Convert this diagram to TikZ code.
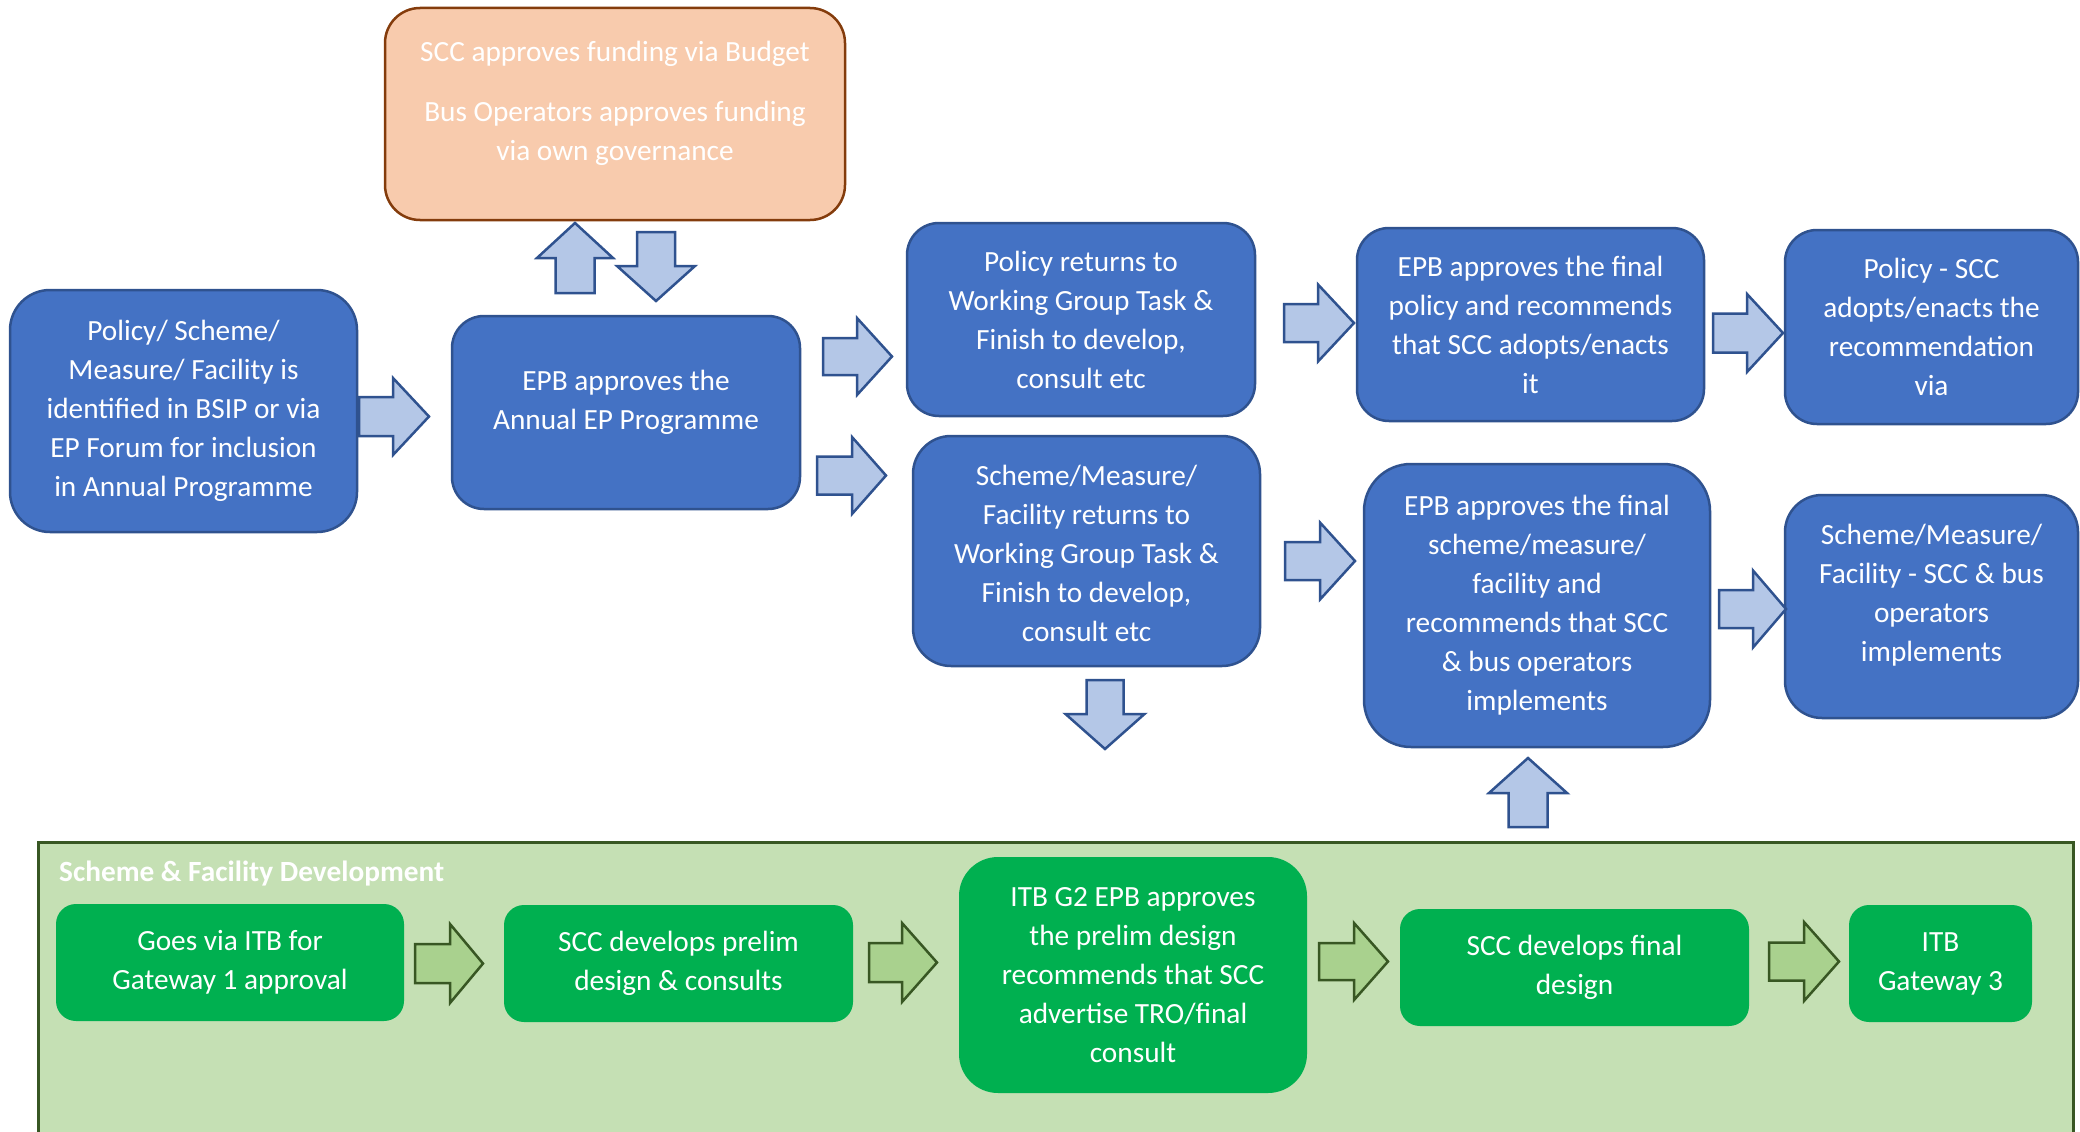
\documentclass[tikz,border=0pt]{standalone}
\usepackage{fontspec}
\setmainfont{Carlito}
\definecolor{bfill}{HTML}{4472C4}
\definecolor{bline}{HTML}{2F528F}
\definecolor{afill}{HTML}{B4C7E7}
\definecolor{ofill}{HTML}{F8CBAD}
\definecolor{oline}{HTML}{843C0C}
\definecolor{pfill}{HTML}{C5E0B4}
\definecolor{pline}{HTML}{385723}
\definecolor{gfill}{HTML}{00B050}
\definecolor{gafill}{HTML}{A9D18E}
\newcommand\rarrow[7]{\draw[#7] ({#1},{#4-#5}) -- ({#2},{#4-#5}) -- ({#2},{#4-#6}) -- ({#3},{#4}) -- ({#2},{#4+#6}) -- ({#2},{#4+#5}) -- ({#1},{#4+#5}) -- cycle;}
\newcommand\varrow[7]{\draw[#7] ({#4-#5},{#1}) -- ({#4-#5},{#2}) -- ({#4-#6},{#2}) -- ({#4},{#3}) -- ({#4+#6},{#2}) -- ({#4+#5},{#2}) -- ({#4+#5},{#1}) -- cycle;}
\tikzset{
  bluebox/.style={draw=bline, fill=bfill, line width=2.5pt, inner sep=0pt},
  orangebox/.style={draw=oline, fill=ofill, line width=2.5pt, inner sep=0pt},
  greenbox/.style={fill=gfill, inner sep=0pt},
  txt/.style={text=white, align=center, inner sep=0pt, font=\fontsize{29.3}{39}\selectfont},
  barr/.style={draw=bline, fill=afill, line width=2.5pt, line join=miter},
  garr/.style={draw=pline, fill=gafill, line width=2.5pt, line join=miter},
}
\begin{document}
\begin{tikzpicture}[x=1pt, y=-1pt]
\useasboundingbox (0,0) rectangle (2080,1132);
% green panel
\fill[pfill] (38,842) rectangle (2073,1132);
\draw[pline, line width=3pt] (38,1132) -- (38,842) -- (2073,842) -- (2073,1132);
\node[anchor=base west, text=white, inner sep=0pt, font=\fontsize{29.3}{35}\selectfont\bfseries] (lbl) at (59,881) {Scheme \& Facility Development};

% blue boxes
\node[bluebox, minimum width=347pt, minimum height=242pt, rounded corners=40pt] (n1) at (183.5,411) {};
\node[txt] at (n1.center) {Policy/ Scheme/\\Measure/ Facility is\\identified in BSIP or via\\EP Forum for inclusion\\in Annual Programme};

\node[bluebox, minimum width=348pt, minimum height=193pt, rounded corners=32pt] (annual) at (626,412.5) {};
\node[txt] at ([yshift=10pt]annual.center) {EPB approves the\\Annual EP Programme};

\node[orangebox, minimum width=460pt, minimum height=212pt, rounded corners=35pt] (fund) at (615,114) {};
\node[txt] at ([yshift=11pt]fund.center) {SCC approves funding via Budget\\[21pt]Bus Operators approves funding\\via own governance};

\node[bluebox, minimum width=348pt, minimum height=193pt, rounded corners=32pt] (polret) at (1081,319.5) {};
\node[txt] at (polret.center) {Policy returns to\\Working Group Task \&\\Finish to develop,\\consult etc};

\node[bluebox, minimum width=347pt, minimum height=230pt, rounded corners=38pt] (schret) at (1086.5,551) {};
\node[txt] at ([yshift=-2pt]schret.center) {Scheme/Measure/\\Facility returns to\\Working Group Task \&\\Finish to develop,\\consult etc};

\node[bluebox, minimum width=347pt, minimum height=193pt, rounded corners=32pt] (epbpol) at (1530.5,324.5) {};
\node[txt] at (epbpol.center) {EPB approves the final\\policy and recommends\\that SCC adopts/enacts\\it};

\node[bluebox, minimum width=293pt, minimum height=194pt, rounded corners=32pt] (polscc) at (1931.5,327) {};
\node[txt] at (polscc.center) {Policy - SCC\\adopts/enacts the\\recommendation\\via};

\node[bluebox, minimum width=346pt, minimum height=283pt, rounded corners=47pt] (epbsch) at (1537,605.5) {};
\node[txt] at (epbsch.center) {EPB approves the final\\scheme/measure/\\facility and\\recommends that SCC\\\& bus operators\\implements};

\node[bluebox, minimum width=293pt, minimum height=223pt, rounded corners=37pt] (schscc) at (1931.5,606.5) {};
\node[txt] at ([yshift=11pt]schscc.center) {Scheme/Measure/\\Facility - SCC \& bus\\operators\\implements};

% green boxes
\node[greenbox, minimum width=348pt, minimum height=117pt, rounded corners=20pt] (g1) at (230,962.5) {};
\node[txt] at (g1.center) {Goes via ITB for\\Gateway 1 approval};
\node[greenbox, minimum width=349pt, minimum height=117pt, rounded corners=20pt] (g2) at (678.5,963.5) {};
\node[txt] at (g2.center) {SCC develops prelim\\design \& consults};
\node[greenbox, minimum width=348pt, minimum height=236pt, rounded corners=39pt] (g3) at (1133,975) {};
\node[txt] at (g3.center) {ITB G2 EPB approves\\the prelim design\\recommends that SCC\\advertise TRO/final\\consult};
\node[greenbox, minimum width=349pt, minimum height=117pt, rounded corners=20pt] (g4) at (1574.5,967.5) {};
\node[txt] at (g4.center) {SCC develops final\\design};
\node[greenbox, minimum width=183pt, minimum height=117pt, rounded corners=20pt] (g5) at (1940.5,963.5) {};
\node[txt] at (g5.center) {ITB\\Gateway 3};

% blue block arrows
\rarrow{359}{393}{429}{416.5}{19.5}{38.5}{barr}
\rarrow{823}{857}{892}{356.5}{18.5}{38.5}{barr}
\rarrow{817}{852}{886}{475.5}{19}{38.5}{barr}
\rarrow{1284}{1318}{1354}{323}{19}{38.5}{barr}
\rarrow{1713}{1747}{1783}{333}{19.5}{39}{barr}
\rarrow{1285}{1320}{1355}{561}{19}{38.5}{barr}
\rarrow{1719}{1753}{1786}{609}{19}{38.5}{barr}
\varrow{293}{258}{223}{575}{19.5}{38}{barr}
\varrow{232}{266}{301}{656}{19}{39}{barr}
\varrow{680}{714}{749}{1105}{18.5}{39.5}{barr}
\varrow{827}{793}{758}{1528}{19.5}{39}{barr}

% green block arrows
\rarrow{415}{450}{483}{963.5}{19.5}{39.5}{garr}
\rarrow{869}{902}{937}{962.5}{19.5}{39.5}{garr}
\rarrow{1319}{1354}{1388}{961.5}{18.5}{38.5}{garr}
\rarrow{1769}{1804}{1839}{961.5}{19}{39.5}{garr}
\end{tikzpicture}
\end{document}
